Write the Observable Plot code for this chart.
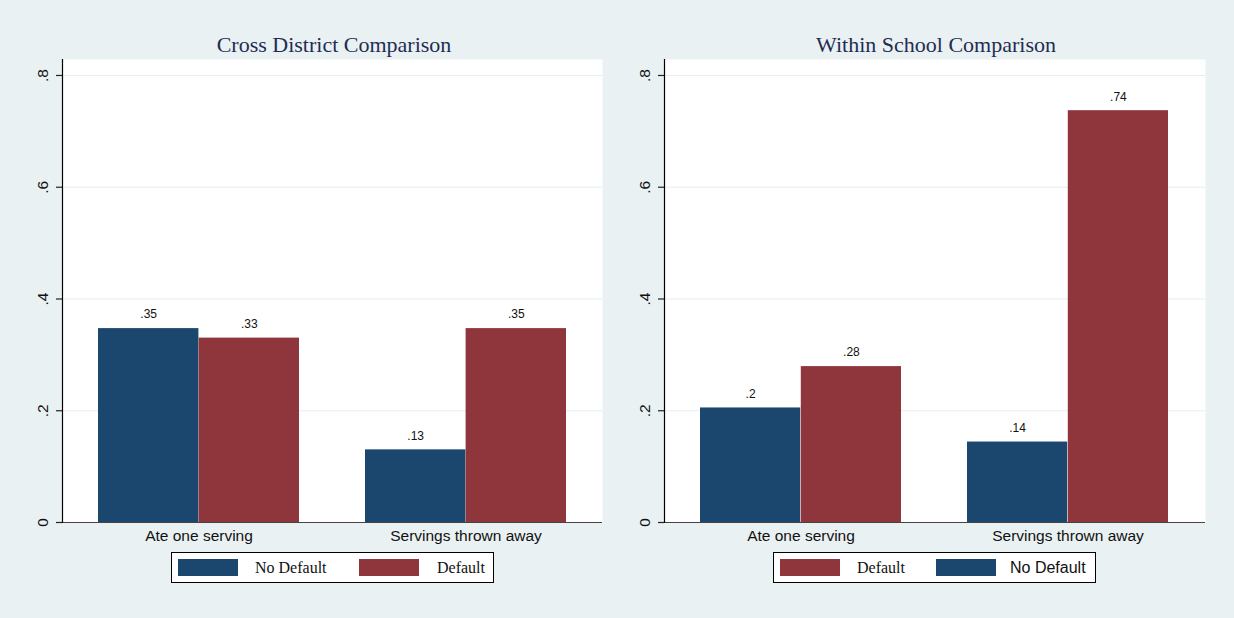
<!DOCTYPE html>
<html>
<head>
<meta charset="utf-8">
<script src="https://cdn.jsdelivr.net/npm/d3@7"></script>
<script src="https://cdn.jsdelivr.net/npm/@observablehq/plot@0.6"></script>
<style>
  html, body { margin: 0; padding: 0; }
  body { width: 1234px; height: 618px; overflow: hidden; }
  #root { position: relative; width: 1234px; height: 618px; background: #eaf1f3; }
  .panel { position: absolute; top: 0; }
  .title { position: absolute; font-family: "Liberation Serif", "Times New Roman", serif; font-size: 22px; color: #1f2d52; white-space: nowrap; transform: translateX(-50%); line-height: 22px; }
  .legend { position: absolute; background: white; border: 1px solid #000; box-sizing: border-box; height: 31px; }
  .sw { position: absolute; width: 60px; height: 17px; top: 6px; }
  .lt { position: absolute; top: 5px; font-size: 16px; line-height: 20px; color: #111; white-space: nowrap; }
</style>
</head>
<body>
<div id="root"></div>
<script>
// ---- data ----
const categories = ["Ate one serving", "Servings thrown away"];
const seriesNames = ["No Default", "Default"];
const seriesColors = ["#1b476f", "#8f353c"];
const crossNoDefault = [0.347, 0.130];
const crossDefault = [0.330, 0.347];
const withinNoDefault = [0.205, 0.144];
const withinDefault = [0.279, 0.737];
const yTicks = [0, 0.2, 0.4, 0.6, 0.8];
const yTickLabels = ["0", ".2", ".4", ".6", ".8"];
const panelTitles = ["Cross District Comparison", "Within School Comparison"];
const legendOrderLeft = ["No Default", "Default"];
const legendOrderRight = ["Default", "No Default"];

const fmtVal = v => d3.format(".2~f")(v).replace(/^0\./, ".");
const colorOf = name => seriesColors[seriesNames.indexOf(name)];

const W = 617, H = 618;
const padInner = 0.247, padOuter = 0.134;

function panel(noDef, def, ml, mr) {
  const rowsND = categories.map((c, i) => ({category: c, value: noDef[i]}));
  const rowsD = categories.map((c, i) => ({category: c, value: def[i]}));
  const plotW = W - ml - mr;
  const bw = plotW * (1 - padInner) / (categories.length - padInner + 2 * padOuter);
  return Plot.plot({
    width: W, height: H,
    marginLeft: ml, marginRight: mr, marginTop: 59, marginBottom: 96,
    style: {background: "transparent", fontFamily: "'Liberation Sans', Arial, sans-serif", fontSize: "15.5px", overflow: "visible"},
    x: {type: "band", domain: categories, paddingInner: padInner, paddingOuter: padOuter, label: null},
    y: {domain: [0, 0.8286], label: null},
    marks: [
      Plot.frame({fill: "white", stroke: "none"}),
      Plot.gridY(yTicks, {stroke: "#e5eef1", strokeOpacity: 1, strokeWidth: 1.2}),
      Plot.barY(rowsND, {x: "category", y: "value", fill: colorOf("No Default"), insetRight: bw / 2}),
      Plot.barY(rowsD, {x: "category", y: "value", fill: colorOf("Default"), insetLeft: bw / 2}),
      Plot.text(rowsND, {x: "category", y: "value", text: d => fmtVal(d.value), dx: -bw / 4, dy: -14, fontSize: 12, fill: "#111"}),
      Plot.text(rowsD, {x: "category", y: "value", text: d => fmtVal(d.value), dx: bw / 4, dy: -14, fontSize: 12, fill: "#111"}),
      Plot.axisY(yTicks, {text: null, tickSize: 6, stroke: "#222", strokeWidth: 1.2, strokeOpacity: 1, label: null}),
      Plot.text(yTicks, {y: d => d, text: (d, i) => yTickLabels[i], frameAnchor: "left", dx: -19, rotate: -90, textAnchor: "middle", lineAnchor: "middle", fontSize: 15.5, fill: "#111"}),
      Plot.axisX({tickSize: 0, tickPadding: 7, fontSize: 15.5, fill: "#111", label: null}),
      Plot.ruleY([0], {stroke: "#444", strokeWidth: 1.2}),
      Plot.frame({anchor: "left", stroke: "#000", strokeWidth: 1.2})
    ]
  });
}

const root = document.getElementById("root");

function addPanel(left, chart) {
  const d = document.createElement("div");
  d.className = "panel";
  d.style.left = left + "px";
  d.appendChild(chart);
  root.appendChild(d);
}

function addTitle(text, cx) {
  const t = document.createElement("div");
  t.className = "title";
  t.style.left = cx + "px";
  t.style.top = "34px";
  t.textContent = text;
  root.appendChild(t);
}

function addLegend(left, order, fonts, swX, txX) {
  const box = document.createElement("div");
  box.className = "legend";
  box.style.left = left + "px";
  box.style.top = "552px";
  box.style.width = "323px";
  order.forEach((name, i) => {
    const s = document.createElement("div");
    s.className = "sw";
    s.style.left = swX[i] + "px";
    s.style.background = colorOf(name);
    box.appendChild(s);
    const t = document.createElement("div");
    t.className = "lt";
    t.style.left = txX[i] + "px";
    t.style.fontFamily = fonts[i];
    t.textContent = name;
    box.appendChild(t);
  });
  root.appendChild(box);
}

const serif = "'Liberation Serif', 'Times New Roman', serif";
const sans = "'Liberation Sans', Arial, sans-serif";

addPanel(0, panel(crossNoDefault, crossDefault, 62, 15));
addPanel(617, panel(withinNoDefault, withinDefault, 47, 29));
addTitle(panelTitles[0], 334);
addTitle(panelTitles[1], 936);
addLegend(171, legendOrderLeft, [serif, serif], [6, 187], [83, 265]);
addLegend(773, legendOrderRight, [serif, sans], [6, 162], [83, 236]);
</script>
</body>
</html>
